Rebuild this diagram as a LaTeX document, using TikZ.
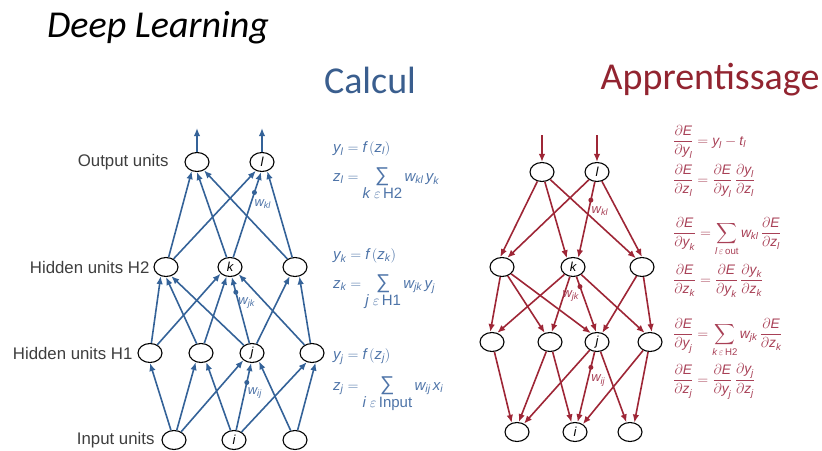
\documentclass[tikz,border=0pt]{standalone}
\usepackage{amsmath}
\usepackage{fontspec}
\setmainfont{Liberation Sans}
\newfontfamily\headfont{Carlito}
\usepackage{tikz}
\usetikzlibrary{arrows.meta,shapes.geometric}
\definecolor{dlblue}{RGB}{52,98,152}
\definecolor{dlbluetext}{RGB}{78,116,168}
\definecolor{dlbluehead}{RGB}{58,94,142}
\definecolor{dlred}{RGB}{158,38,54}
\definecolor{dlredtext}{RGB}{168,64,86}
\definecolor{dlredhead}{RGB}{146,36,48}
\definecolor{dlgray}{RGB}{62,62,62}
\newcommand{\mv}[1]{\textit{#1}}
\newcommand{\vs}[2]{\mv{#1}_{\mv{#2}}}
\newcommand{\pd}[2]{\dfrac{\partial #1}{\partial #2}}
\newcommand{\bsum}{\mathop{\hbox{\fontsize{20}{20}\selectfont ∑}}\limits}

\begin{document}
\begin{tikzpicture}[x=1pt,y=-1pt,
  unit/.style={ellipse,draw=black,line width=1.1pt,fill=white,minimum width=24pt,minimum height=19pt,inner sep=0pt,font=\fontsize{13}{13}\selectfont\itshape},
  layer/.style={anchor=east,text=dlgray,font=\fontsize{16.8}{17}\selectfont},
  heading/.style={font=\headfont\fontsize{38}{38}\selectfont},
  fwd/.style={-{Latex[length=8pt,width=6.5pt]},draw=dlblue,line width=1.6pt},
  bwd/.style={-{Latex[length=8pt,width=6.5pt]},draw=dlred,line width=1.6pt},
  wdot/.style={circle,inner sep=0pt,minimum size=5pt},
  wlab/.style={font=\fontsize{13}{13}\selectfont,inner sep=1pt},
  feq/.style={anchor=base west,text=dlbluetext,font=\fontsize{15}{15}\selectfont,inner sep=0pt},
  beq/.style={anchor=base west,text=dlredtext,font=\fontsize{13.8}{14}\selectfont,inner sep=0pt}]

\useasboundingbox (0,0) rectangle (822,450);

\node[heading,text=black] (title) at (158,28) {\itshape Deep Learning};
\node[heading,text=dlbluehead] (calcul) at (370,80) {Calcul};
\node[heading,text=dlredhead] (appr) at (710,80) {Apprentissage};

% forward pass
\node[unit] (o1) at (197,162) {};
\node[unit] (o2) at (262,162) {l};
\node[unit] (a1) at (166,267) {};
\node[unit] (a2) at (230,267) {k};
\node[unit] (a3) at (295,267) {};
\node[unit] (b1) at (150,353) {};
\node[unit] (b2) at (201,353) {};
\node[unit] (b3) at (252,353) {j};
\node[unit] (b4) at (312,353) {};
\node[unit] (c1) at (174,440) {};
\node[unit] (c2) at (234,440) {i};
\node[unit] (c3) at (295,440) {};

\node[layer] (lo) at (172,162) {Output units};
\node[layer] (la) at (153,267) {Hidden units H2};
\node[layer] (lb) at (136,353) {Hidden units H1};
\node[layer] (lc) at (158,440) {Input units};

\coordinate (top1) at (197,128);
\coordinate (top2) at (262,128);
\draw[fwd] (o1) -- (top1);
\draw[fwd] (o2) -- (top2);

\foreach \s/\t/\a in {a1/o1/240,a2/o1/270,a3/o1/310,a1/o2/235,a3/o2/300,
    b1/a1/240,b2/a1/270,b3/a1/300,b1/a2/215,b2/a2/250,b4/a2/320,b3/a3/240,b4/a3/295,
    c1/b1/270,c1/b2/240,c2/b2/300,c1/b3/220,c3/b3/310,c2/b4/240,c3/b4/290}
  \draw[fwd] (\s) -- (\t.\a);

\draw[fwd] (a2) -- (o2.265)
  node[wdot,fill=dlblue,pos=.76] (dkl) {}
  node[wlab,text=dlbluetext,pos=.7,below right] (wkl) {$\vs{w}{kl}$};
\draw[fwd] (b3) -- (a2.280)
  node[wdot,fill=dlblue,pos=.77] (djk) {}
  node[wlab,text=dlbluetext,pos=.72,below right] (wjk) {$\vs{w}{jk}$};
\draw[fwd] (c2) -- (b3.265)
  node[wdot,fill=dlblue,pos=.71] (dij) {}
  node[wlab,text=dlbluetext,pos=.66,below right] (wij) {$\vs{w}{ij}$};

\node[feq] (eql) at (333,152) {$\begin{array}[t]{@{}l@{}}
  \vs{y}{l} = \mv{f}\,(\vs{z}{l})\\[11pt]
  \vs{z}{l} = \bsum_{\textstyle \mv{k}\;\varepsilon\,\text{H2}} \vs{w}{kl}\,\vs{y}{k}
  \end{array}$};
\node[feq] (eqk) at (333,259) {$\begin{array}[t]{@{}l@{}}
  \vs{y}{k} = \mv{f}\,(\vs{z}{k})\\[11pt]
  \vs{z}{k} = \bsum_{\textstyle \mv{j}\;\varepsilon\,\text{H1}} \vs{w}{jk}\,\vs{y}{j}
  \end{array}$};
\node[feq] (eqj) at (333,359) {$\begin{array}[t]{@{}l@{}}
  \vs{y}{j} = \mv{f}\,(\vs{z}{j})\\[13pt]
  \vs{z}{j} = \bsum_{\textstyle \mv{i}\;\varepsilon\,\text{Input}} \vs{w}{ij}\,\vs{x}{i}
  \end{array}$};

% backward pass
\node[unit] (ro1) at (542,172) {};
\node[unit] (ro2) at (597,172) {l};
\node[unit] (ra1) at (502,267) {};
\node[unit] (ra2) at (573,267) {k};
\node[unit] (ra3) at (642,267) {};
\node[unit] (rb1) at (492,342) {};
\node[unit] (rb2) at (550,342) {};
\node[unit] (rb3) at (597,342) {j};
\node[unit] (rb4) at (650,342) {};
\node[unit] (rc1) at (517,432) {};
\node[unit] (rc2) at (575,432) {i};
\node[unit] (rc3) at (630,432) {};

\coordinate (rtop1) at (542,135);
\coordinate (rtop2) at (597,135);
\draw[bwd] (rtop1) -- (ro1);
\draw[bwd] (rtop2) -- (ro2);

\foreach \s/\t/\a in {ro1/ra1/100,ro2/ra1/60,ro1/ra2/125,ro1/ra3/125,ro2/ra3/90,
    ra1/rb1/100,ra2/rb1/60,ra1/rb2/120,ra2/rb2/80,ra1/rb3/125,ra3/rb3/60,ra2/rb4/120,ra3/rb4/80,
    rb1/rc1/120,rb2/rc1/80,rb3/rc1/50,rb2/rc2/110,rb4/rc2/45,rb3/rc3/110,rb4/rc3/65}
  \draw[bwd] (\s) -- (\t.\a);

\draw[bwd] (ro2) -- (ra2.60)
  node[wdot,fill=dlred,pos=.24] (rdkl) {}
  node[wlab,text=dlredtext,pos=.3,below right] (rwkl) {$\vs{w}{kl}$};
\draw[bwd] (ra2) -- (rb3.95)
  node[wdot,fill=dlred,pos=.18] (rdjk) {}
  node[wlab,text=dlredtext,pos=.22,below left] (rwjk) {$\vs{w}{jk}$};
\draw[bwd] (rb3) -- (rc2.75)
  node[wdot,fill=dlred,pos=.22] (rdij) {}
  node[wlab,text=dlredtext,pos=.3,below right] (rwij) {$\vs{w}{ij}$};

\node[beq] (dyl) at (673,145) {$\displaystyle \pd{\mv{E}}{\vs{y}{l}} = \vs{y}{l} - \vs{t}{l}$};
\node[beq] (dzl) at (673,184) {$\displaystyle \pd{\mv{E}}{\vs{z}{l}} = \pd{\mv{E}}{\vs{y}{l}}\,\pd{\vs{y}{l}}{\vs{z}{l}}$};
\node[beq] (dyk) at (673,237) {$\displaystyle \pd{\mv{E}}{\vs{y}{k}} = \sum_{\mv{l}\,\varepsilon\,\text{out}} \vs{w}{kl}\,\pd{\mv{E}}{\vs{z}{l}}$};
\node[beq] (dzk) at (673,284) {$\displaystyle \pd{\mv{E}}{\vs{z}{k}} = \pd{\mv{E}}{\vs{y}{k}}\,\pd{\vs{y}{k}}{\vs{z}{k}}$};
\node[beq] (dyj) at (673,338) {$\displaystyle \pd{\mv{E}}{\vs{y}{j}} = \sum_{\mv{k}\,\varepsilon\,\text{H2}} \vs{w}{jk}\,\pd{\mv{E}}{\vs{z}{k}}$};
\node[beq] (dzj) at (673,384) {$\displaystyle \pd{\mv{E}}{\vs{z}{j}} = \pd{\mv{E}}{\vs{y}{j}}\,\pd{\vs{y}{j}}{\vs{z}{j}}$};

\end{tikzpicture}
\end{document}
